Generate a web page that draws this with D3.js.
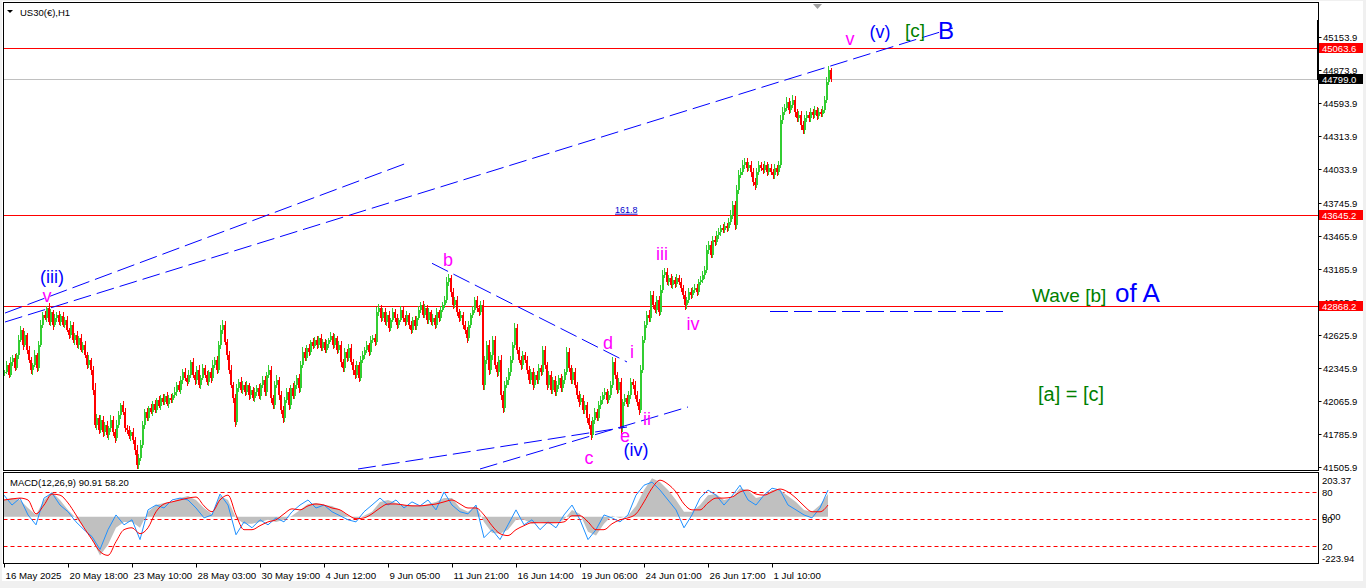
<!DOCTYPE html>
<html><head><meta charset="utf-8">
<script src="https://cdn.jsdelivr.net/npm/d3@7/dist/d3.min.js"></script>
<style>
html,body{margin:0;padding:0;background:#f0f0f0;overflow:hidden}
svg{display:block}
text{font-family:"Liberation Sans",Arial,sans-serif}
</style></head><body>
<svg id="c" width="1366" height="588"></svg>
<script>
// ---------- DATA ----------
// H1 closes, one value per 2 bars
const firstOpen = 42300;
const closes = [
42312,42372,42287,42397,42431,42346,42456,42584,42668,42541,
42626,42499,42414,42329,42372,42456,42346,42541,42711,42796,
42770,42855,42736,42821,42711,42770,42796,42736,42787,42711,
42753,42668,42626,42711,42584,42626,42541,42601,42499,42541,
42456,42372,42414,42329,42159,41863,41922,41820,41905,41803,
41863,41778,41837,41905,41803,41752,41863,41947,42032,41973,
41837,41820,41769,41803,41735,41650,41523,41583,41693,41863,
41973,41922,42007,41973,42041,41990,42075,42024,42092,42058,
42109,42041,42092,42075,42117,42142,42202,42159,42244,42312,
42261,42227,42287,42397,42287,42244,42329,42202,42261,42346,
42287,42227,42312,42261,42372,42414,42329,42541,42668,42711,
42567,42456,42329,42202,42092,41888,42176,42227,42159,42202,
42142,42202,42117,42159,42092,42142,42176,42109,42202,42244,
42142,42287,42329,42092,42032,42202,42244,42117,41990,41922,
42075,42142,42032,42176,42109,42202,42261,42176,42372,42482,
42431,42516,42482,42567,42533,42584,42541,42601,42516,42567,
42499,42550,42584,42618,42541,42601,42499,42541,42397,42346,
42482,42431,42516,42397,42329,42287,42372,42261,42414,42456,
42499,42541,42482,42584,42601,42567,42821,42855,42770,42821,
42736,42796,42685,42753,42821,42770,42711,42753,42838,42770,
42736,42796,42711,42668,42753,42702,42770,42838,42880,42796,
42855,42753,42821,42736,42770,42711,42821,42770,42838,42880,
42923,43076,43110,42991,42880,42923,42821,42770,42796,42711,
42668,42601,42711,42796,42838,42923,42855,42821,42880,42202,
42414,42541,42329,42456,42584,42372,42312,42414,42117,42007,
42202,42244,42312,42414,42541,42685,42499,42414,42372,42456,
42414,42329,42244,42312,42202,42287,42244,42346,42312,42499,
42372,42202,42287,42159,42244,42142,42202,42261,42176,42244,
42312,42482,42346,42244,42312,42202,42117,42058,42092,41990,
42032,41922,41863,41778,41905,41973,41922,42032,42075,42117,
42142,42075,42117,42202,42397,42287,42159,42227,41837,42058,
42092,42041,42117,42227,42202,42117,42058,41990,42329,42584,
42711,42796,42770,42965,42880,42838,42923,42821,43008,43135,
43160,43076,43110,43050,43093,43059,43110,43076,43025,42965,
42880,42923,42991,42965,43008,43025,42991,43076,43093,43135,
43177,43347,43390,43305,43432,43415,43474,43500,43534,43517,
43551,43534,43585,43644,43729,43559,43856,43983,44009,44068,
44094,44043,44068,44009,43924,43899,44009,44068,44043,44026,
44068,44009,44043,44009,43983,44043,44009,44068,44450,44518,
44552,44603,44535,44577,44620,44518,44467,44492,44408,44365,
44467,44492,44467,44518,44492,44535,44484,44518,44501,44535,
44620,44772,44874,44799
];
// wick extents (points above / below the body), estimated
const upperWick = [
20,35,15,40,25,30,20,45,30,15, 30,20,35,25,15,40,20,30,45,25,
35,20,40,25,15,30,25,35,20,30, 25,30,20,35,25,15,30,20,35,25,
30,25,40,20,35,60,30,25,40,30, 25,35,20,40,30,25,45,30,20,35,
30,25,35,20,30,25,40,30,45,35, 25,30,20,35,25,30,20,35,25,30,
20,35,25,30,20,40,25,30,35,25, 30,25,40,20,35,25,30,45,25,30,
25,35,20,30,40,25,35,30,45,40, 35,25,30,40,25,35,30,25,40,30,
25,30,20,35,25,30,25,35,20,30, 30,25,40,35,25,30,40,25,35,30,
25,35,30,25,40,30,25,35,30,40, 30,25,35,20,30,25,35,20,30,25,
25,30,20,35,25,30,20,35,30,25, 30,25,35,30,25,40,30,25,35,30,
25,30,20,35,25,30,45,35,25,30, 30,25,35,20,30,25,35,20,30,25,
25,30,20,35,25,30,20,30,25,35, 30,25,35,20,30,25,35,20,30,25,
30,40,35,25,30,25,35,25,30,25, 30,25,35,20,30,25,30,25,35,40,
35,30,40,25,35,30,25,35,40,30, 30,25,35,30,25,40,30,25,35,30,
25,30,35,25,30,25,35,30,25,35, 30,25,35,30,25,35,30,25,35,30,
25,40,30,25,35,30,25,30,35,25, 30,25,35,30,25,30,25,35,30,25,
30,25,35,30,40,30,25,35,30,25, 30,25,35,30,25,30,35,25,40,35,
35,30,40,35,30,25,35,30,40,45, 35,30,25,30,35,25,30,25,30,25,
30,25,35,30,25,30,35,25,30,35, 35,40,35,30,35,30,35,30,25,30,
30,25,35,40,35,30,45,40,35,40, 35,30,25,30,35,30,35,30,25,30,
30,25,30,35,25,30,25,35,40,45, 35,40,30,35,40,30,25,30,35,30,
25,30,25,30,25,30,25,30,25,30, 30,40,35,20
];
const lowerWick = [
25,15,30,20,35,25,15,30,20,40, 20,35,25,30,40,20,35,25,15,30,
20,35,25,30,40,20,30,25,35,20, 30,20,35,25,30,40,25,35,20,30,
25,35,30,40,45,30,40,35,25,40, 35,25,40,30,35,45,25,30,35,25,
30,35,25,40,35,45,30,35,25,30, 35,25,30,20,35,25,30,20,35,25,
30,20,35,25,30,25,35,20,30,35, 25,35,20,30,25,40,30,25,35,20,
30,25,35,40,25,30,35,25,30,35, 30,40,35,25,40,45,30,35,25,30,
35,25,40,30,25,35,30,25,35,30, 30,35,25,40,30,35,25,40,35,45,
35,30,40,35,25,30,35,40,30,25, 25,30,35,25,30,20,35,25,30,25,
30,25,35,20,30,25,35,30,40,35, 30,35,25,30,40,35,30,35,25,30,
30,25,35,30,25,35,25,30,35,25, 25,30,35,25,20,30,35,25,20,30,
30,25,35,30,25,35,30,20,25,30, 25,35,30,25,30,35,25,30,25,20,
25,30,35,40,30,25,35,30,25,35, 35,40,30,25,30,25,30,35,25,45,
40,35,45,30,40,35,40,30,45,40, 35,30,40,35,30,25,35,30,40,35,
30,35,30,35,40,30,35,30,35,25, 35,40,30,35,30,35,30,35,30,35,
30,25,35,30,35,30,35,40,30,35, 35,40,35,45,30,35,30,25,30,35,
30,35,30,25,30,35,30,25,60,30, 35,30,25,30,35,30,35,40,30,25,
30,25,30,35,30,25,30,35,25,30, 25,30,35,25,30,35,25,30,35,30,
40,30,25,30,25,30,35,25,30,25, 30,25,35,30,25,30,25,30,35,30,
30,35,30,25,30,40,35,30,25,30, 30,35,30,40,35,40,30,25,30,35,
30,35,30,25,35,30,35,30,25,30, 30,25,35,30,25,40,35,30,40,35,
35,30,35,30,30,25,35,30,30,25, 25,30,25,30
];
const barsPerSample = 2;

const priceTicks = [45153.9,44873.9,44593.9,44313.9,44033.9,43745.9,43465.9,43185.9,42905.9,42625.9,42345.9,42065.9,41785.9,41505.9];
const levelPrices = [45063.6, 43645.2, 42868.2];
const bidPrice = 44799.0;

const timeTickBars = [0,64,128,192,256,320,384,448,512,576,640,704,768];
const timeTickLabels = ["16 May 2025","20 May 18:00","23 May 10:00","28 May 03:00","30 May 19:00","4 Jun 12:00","9 Jun 05:00","11 Jun 21:00","16 Jun 14:00","19 Jun 06:00","24 Jun 01:00","26 Jun 17:00","1 Jul 10:00"];

// MACD panel, one value per 8 bars
const macdStep = 8;
const macdHist = [80,89,80,42,9,80,118,80,33,-5,-52,-108,-183,-132,-52,-24,-24,-52,24,56,66,71,89,99,80,42,14,99,80,-5,-33,-33,-24,-14,-24,-14,5,33,61,66,56,52,33,5,-9,5,24,71,80,66,56,56,52,61,71,89,89,42,24,52,-24,-75,-80,-61,-14,-14,-33,-24,-33,-28,-14,33,14,-71,-89,-33,5,-5,5,52,127,183,165,127,80,24,24,56,103,108,80,89,136,127,89,99,127,127,99,70,33,24,56,108];
const macdSignal = [80,85,89,80,14,56,108,103,66,9,-52,-108,-165,-183,-118,-61,-52,-80,-52,24,61,71,80,89,94,52,24,80,103,9,-61,-61,-42,-24,-14,14,38,33,52,61,56,42,33,9,-9,-5,14,42,61,61,56,52,52,56,61,71,80,61,42,42,9,-42,-80,-89,-61,-42,-28,-28,-28,-28,-24,5,5,-24,-61,-61,-33,-14,-5,14,71,136,174,155,118,61,33,33,66,89,89,94,118,127,108,103,118,132,118,89,52,24,24,56];
const macdFast = [103,56,89,9,-38,89,113,56,24,-24,-61,-94,-155,-61,9,-38,-14,-108,33,56,42,80,89,80,42,-5,9,108,56,-85,-24,-52,-14,-38,-5,-24,24,56,80,42,56,24,5,-14,-24,24,56,89,56,80,42,71,52,80,33,118,56,24,14,56,-99,-61,-108,-38,33,-38,-14,-61,-24,-52,9,56,-14,-108,-61,9,-5,-24,9,103,150,165,127,80,33,-52,9,89,127,103,56,99,150,80,56,103,136,127,56,33,9,-5,42,127];
const macdMin = -223.94, macdMax = 203.37;
const macdLevels = [80, 50, 20];
const macdTitle = "MACD(12,26,9) 90.91 58.20";

// annotation trend lines: [bar1, price1, bar2, price2]
const trendLines = [
  [1, 42812, 403, 44085],
  [1, 42736, 949, 45230],
  [428, 43234, 623, 42397],
  [354, 41489, 623, 41845],
  [476, 41489, 684, 42015]
];
const dashLevel = [766, 999, 42830];

// wave labels: text, bar (center), baseline price
const waveLabels = [
  ["(iii)", 48, 43063, "#0000ff", 18],
  ["v", 43, 42908, "#ff00ff", 18],
  ["b", 444, 43211, "#ff00ff", 18],
  ["d", 604, 42507, "#ff00ff", 18],
  ["i", 628, 42431, "#ff00ff", 18],
  ["ii", 643, 41862, "#ff00ff", 18],
  ["e", 621, 41714, "#ff00ff", 18],
  ["(iv)", 632, 41595, "#0000ff", 18],
  ["c", 585, 41531, "#ff00ff", 18],
  ["iii", 658, 43262, "#ff00ff", 18],
  ["iv", 689, 42668, "#ff00ff", 18],
  ["v", 846, 45086, "#ff00ff", 18],
  ["(v)", 876, 45146, "#0000ff", 18],
  ["[c]", 911, 45150, "#008000", 19],
  ["B", 942, 45135, "#0000ff", 24]
];
// free text: text, bar (start), baseline price
const noteLabels = [
  ["Wave [b]", 1028, 42906, "#008000", 19],
  ["of A", 1111, 42906, "#0000ff", 26],
  ["[a] = [c]", 1034, 42066, "#008000", 20]
];
const fiboLabel = ["161.8", 611, 43663];

// ---------- LAYOUT ----------
const L = 3.5, R = 1318.5;
const mainTop = 2.5, mainBot = 470.5;
const macdTop = 472.5, macdBot = 563.5;

const xScale = d3.scaleLinear().domain([0, 1314]).range([4, 1318]);
const yScale = d3.scaleLinear().domain([41505.9, 45153.9]).range([467, 37]);
const mScale = d3.scaleLinear().domain([macdMin, macdMax]).range([564, 474]);
const lvScale = d3.scaleLinear().domain([0, 100]).range([564, 474]);

const svg = d3.select('#c');
svg.append('rect').attr('x',2).attr('y',1).attr('width',1361).attr('height',580).attr('fill','#fff');

const defs = svg.append('defs');
defs.append('clipPath').attr('id','cm').append('rect').attr('x',L).attr('y',mainTop).attr('width',R-L).attr('height',mainBot-mainTop);
defs.append('clipPath').attr('id','cd').append('rect').attr('x',L).attr('y',macdTop).attr('width',R-L).attr('height',macdBot-macdTop);

const gMain = svg.append('g').attr('clip-path','url(#cm)');
const gMacd = svg.append('g').attr('clip-path','url(#cd)');

// horizontal level lines
gMain.append('line').attr('x1',L).attr('x2',R).attr('y1',Math.round(yScale(bidPrice))+0.5).attr('y2',Math.round(yScale(bidPrice))+0.5)
  .attr('stroke','#c0c0c0').attr('stroke-width',1);
levelPrices.forEach(p=>{
  const y = Math.round(yScale(p))+0.5;
  gMain.append('line').attr('x1',L).attr('x2',R).attr('y1',y).attr('y2',y).attr('stroke','#ff0000').attr('stroke-width',1);
});

// candles
const bars = closes.map((c,k)=>{
  const o = k?closes[k-1]:firstOpen;
  return {b:k*barsPerSample, o, c, h:Math.max(o,c)+upperWick[k], l:Math.min(o,c)-lowerWick[k]};
});
const colr = d=> d.c>=d.o ? '#32cd32' : '#ff0000';
const gBars = gMain.append('g').attr('shape-rendering','crispEdges');
gBars.selectAll('rect.w').data(bars).join('rect').attr('class','w')
  .attr('x', d=>xScale(d.b)+ (d.c>=d.o?0:1))
  .attr('width', 1)
  .attr('y', d=>Math.round(yScale(d.h)))
  .attr('height', d=>Math.max(1, Math.round(yScale(d.l)) - Math.round(yScale(d.h))))
  .attr('fill', colr);
gBars.selectAll('rect.b').data(bars).join('rect').attr('class','b')
  .attr('x', d=>xScale(d.b))
  .attr('width', 2)
  .attr('y', d=>Math.round(yScale(Math.max(d.o,d.c))))
  .attr('height', d=>Math.max(1, Math.round(yScale(Math.min(d.o,d.c))) - Math.round(yScale(Math.max(d.o,d.c)))))
  .attr('fill', colr);

// trend lines
trendLines.forEach(t=>{
  gMain.append('line')
    .attr('x1',xScale(t[0])).attr('y1',yScale(t[1]))
    .attr('x2',xScale(t[2])).attr('y2',yScale(t[3]))
    .attr('stroke','#0000ff').attr('stroke-width',1).attr('stroke-dasharray','18,6');
});
gMain.append('line').attr('x1',xScale(dashLevel[0])).attr('x2',xScale(dashLevel[1]))
  .attr('y1',Math.round(yScale(dashLevel[2]))+0.5).attr('y2',Math.round(yScale(dashLevel[2]))+0.5)
  .attr('stroke','#0000ff').attr('stroke-width',1).attr('stroke-dasharray','18,6');

// labels
waveLabels.forEach(l=>{
  gMain.append('text').attr('x',xScale(l[1])).attr('y',yScale(l[2]))
    .attr('text-anchor','middle').attr('fill',l[3]).attr('font-size',l[4]+'px').text(l[0]);
});
noteLabels.forEach(l=>{
  gMain.append('text').attr('x',xScale(l[1])).attr('y',yScale(l[2]))
    .attr('fill',l[3]).attr('font-size',l[4]+'px').text(l[0]);
});
gMain.append('text').attr('x',xScale(fiboLabel[1])).attr('y',yScale(fiboLabel[2]))
  .attr('fill','#0000cc').attr('font-size','9px').attr('text-decoration','underline').text(fiboLabel[0]);

// title
svg.append('path').attr('d','M7,10 L13,10 L10,13 Z').attr('fill','#000');
svg.append('text').attr('x',20).attr('y',15.5).attr('font-size','9.5px').attr('fill','#000').text('US30(€),H1');
// chart shift marker
svg.append('path').attr('d','M813,4 L822,4 L817.5,9 Z').attr('fill','#a0a0a0');

// ---------- MACD ----------
macdLevels.forEach(l=>{
  const y = Math.round(lvScale(l))+0.5;
  gMacd.append('line').attr('x1',L).attr('x2',R).attr('y1',y).attr('y2',y)
    .attr('stroke','#ff0000').attr('stroke-width',1).attr('stroke-dasharray','4,3');
});
const mx = (d,j)=>xScale(j*macdStep);
gMacd.append('path').datum(macdHist)
  .attr('d', d3.area().x(mx).y0(mScale(0)).y1(d=>mScale(d)))
  .attr('fill','#c0c0c0');
gMacd.append('path').datum(macdFast)
  .attr('d', d3.line().x(mx).y(d=>mScale(d)))
  .attr('fill','none').attr('stroke','#1e90ff').attr('stroke-width',1);
gMacd.append('path').datum(macdSignal)
  .attr('d', d3.line().x(mx).y(d=>mScale(d)).curve(d3.curveMonotoneX))
  .attr('fill','none').attr('stroke','#ff0000').attr('stroke-width',1);
svg.append('text').attr('x',10).attr('y',485.5).attr('font-size','9.5px').attr('fill','#000').text(macdTitle);

// ---------- frames ----------
const frame = svg.append('g').attr('fill','none').attr('stroke','#000').attr('stroke-width',1).attr('shape-rendering','crispEdges');
frame.append('rect').attr('x',L).attr('y',mainTop).attr('width',R-L).attr('height',mainBot-mainTop);
frame.append('rect').attr('x',L).attr('y',macdTop).attr('width',R-L).attr('height',macdBot-macdTop);
svg.append('rect').attr('x',1317).attr('y',20).attr('width',2).attr('height',60).attr('fill','#000');

// ---------- right axis (main) ----------
const ax = svg.append('g').attr('font-size','9.5px').attr('fill','#000');
priceTicks.forEach(p=>{
  const y = Math.round(yScale(p))+0.5;
  ax.append('line').attr('x1',R).attr('x2',R+3).attr('y1',y).attr('y2',y).attr('stroke','#000');
  ax.append('text').attr('x',1323).attr('y',y+3.5).text(p.toFixed(1));
});
levelPrices.forEach(p=>{
  const y = Math.round(yScale(p));
  ax.append('rect').attr('x',1319).attr('y',y-5).attr('width',44).attr('height',10).attr('fill','#ff0000');
  ax.append('text').attr('x',1322).attr('y',y+3.5).attr('fill','#fff').text(p.toFixed(1));
});
{
  const y = Math.round(yScale(bidPrice));
  ax.append('rect').attr('x',1319).attr('y',y-5).attr('width',44).attr('height',10).attr('fill','#000');
  ax.append('text').attr('x',1322).attr('y',y+3.5).attr('fill','#fff').text(bidPrice.toFixed(1));
}

// ---------- right axis (MACD) ----------
ax.append('text').attr('x',1322).attr('y',mScale(macdMax)+9.5).text(macdMax.toFixed(2));
ax.append('text').attr('x',1322).attr('y',mScale(macdMin)-2.5).text(macdMin.toFixed(2));
ax.append('text').attr('x',1322).attr('y',mScale(0)+3.5).text((0).toFixed(2));
macdLevels.forEach(l=>{
  ax.append('text').attr('x',1322).attr('y',lvScale(l)+3.5).text(l);
});

// ---------- time axis ----------
timeTickBars.forEach((b,i)=>{
  const x = Math.round(xScale(b))+0.5;
  ax.append('line').attr('x1',x).attr('x2',x).attr('y1',macdBot).attr('y2',macdBot+4).attr('stroke','#000');
  ax.append('text').attr('x',x+1).attr('y',578.5).attr('font-size','9.7px').text(timeTickLabels[i]);
});
</script>
</body></html>
